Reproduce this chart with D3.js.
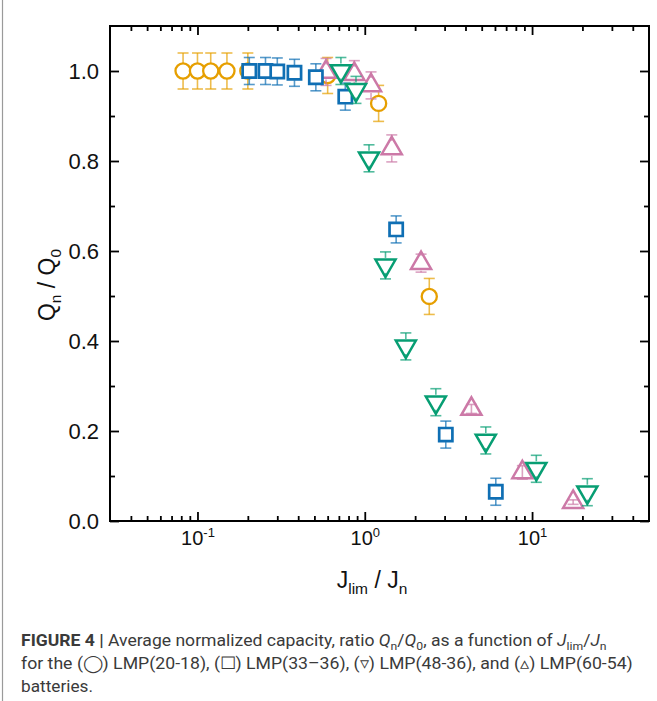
<!DOCTYPE html>
<html><head><meta charset="utf-8">
<script src="https://cdn.jsdelivr.net/npm/d3@7"></script>
<style>body{margin:0;background:#fff}</style>
</head><body>
<svg id="c" width="657" height="701" xmlns="http://www.w3.org/2000/svg"></svg>
<script>
// ---- data ----
const seriesNames = ["LMP(20-18)", "LMP(33-36)", "LMP(48-36)", "LMP(60-54)"];
const circleX = [0.082, 0.1, 0.12, 0.15, 0.2, 0.6, 1.21, 2.43];
const circleY = [1.0, 1.0, 1.0, 1.0, 1.0, 0.99, 0.928, 0.499];
const circleErr = [0.04, 0.04, 0.04, 0.04, 0.04, 0.04, 0.04, 0.04];
const squareX = [0.204, 0.255, 0.30, 0.38, 0.51, 0.765, 1.54, 3.05, 6.07];
const squareY = [1.0, 1.0, 0.999, 0.996, 0.986, 0.943, 0.648, 0.192, 0.065];
const squareErr = [0.03, 0.03, 0.03, 0.03, 0.03, 0.03, 0.03, 0.03, 0.03];
const downX = [0.72, 0.886, 1.06, 1.33, 1.76, 2.66, 5.29, 10.6, 21.4];
const downY = [1.0, 0.958, 0.806, 0.568, 0.388, 0.264, 0.179, 0.116, 0.064];
const downErr = [0.03, 0.03, 0.03, 0.03, 0.03, 0.03, 0.03, 0.03, 0.03];
const upX = [0.587, 0.866, 1.09, 1.45, 2.17, 4.34, 8.75, 17.6];
const upY = [0.998, 0.993, 0.968, 0.828, 0.573, 0.249, 0.108, 0.042];
const upErr = [0.03, 0.03, 0.03, 0.03, 0.02, 0.01, 0.015, 0.005];
const yTicks = [0.0, 0.2, 0.4, 0.6, 0.8, 1.0];
const yMinor = [0.1, 0.3, 0.5, 0.7, 0.9];
const xTicks = [0.1, 1, 10];
const xTickExp = ["-1", "0", "1"];
const xMinor = [0.04,0.05,0.06,0.07,0.08,0.09,0.2,0.3,0.4,0.5,0.6,0.7,0.8,0.9,2,3,4,5,6,7,8,9,20,30,40];

// ---- scales ----
const L = 110, R = 649, T = 26, B = 521;
const x = d3.scaleLog().domain([0.03, 50]).range([L, R]);
const y = d3.scaleLinear().domain([0, 1.1]).range([B, T]);
const svg = d3.select("#c");

const colors = {c: "#E69F00", s: "#0F6FB4", d: "#079E73", u: "#CC79A7"};

// left border line of figure
svg.append("line").attr("x1", 2.5).attr("x2", 2.5).attr("y1", 0).attr("y2", 701)
  .attr("stroke", "#9a9a9a").attr("stroke-width", 1.2);

// ---- axes ----
const fontAx = "'Liberation Sans', Arial, sans-serif";
function styleAxis(g) {
  g.select(".domain").remove();
  g.selectAll(".tick line").attr("stroke", "#000").attr("stroke-width", 1.8);
}
svg.append("g").attr("transform", `translate(${L},0)`)
  .call(d3.axisLeft(y).tickValues(yTicks).tickSize(-9).tickPadding(11).tickFormat(d3.format(".1f")))
  .call(styleAxis)
  .selectAll("text").attr("font-family", fontAx).attr("font-size", 22).attr("fill", "#111");
svg.append("g").attr("transform", `translate(${L},0)`)
  .call(d3.axisLeft(y).tickValues(yMinor).tickSize(-5).tickFormat(""))
  .call(styleAxis);
svg.append("g").attr("transform", `translate(${R},0)`)
  .call(d3.axisRight(y).tickValues(yTicks).tickSize(-9).tickFormat(""))
  .call(styleAxis);
svg.append("g").attr("transform", `translate(${R},0)`)
  .call(d3.axisRight(y).tickValues(yMinor).tickSize(-5).tickFormat(""))
  .call(styleAxis);

const xb = svg.append("g").attr("transform", `translate(0,${B})`)
  .call(d3.axisBottom(x).tickValues(xTicks).tickSize(-9).tickPadding(13).tickFormat(""))
  .call(styleAxis);
xb.selectAll(".tick text").each(function(d, i) {
  const t = d3.select(this).attr("font-family", fontAx).attr("fill", "#111").attr("dy", null).attr("y", 24);
  t.append("tspan").attr("font-size", 20).text("10");
  t.append("tspan").attr("font-size", 13).attr("dy", -8).text(xTickExp[i]);
});
svg.append("g").attr("transform", `translate(0,${B})`)
  .call(d3.axisBottom(x).tickValues(xMinor).tickSize(-5).tickFormat(""))
  .call(styleAxis);
svg.append("g").attr("transform", `translate(0,${T})`)
  .call(d3.axisTop(x).tickValues(xTicks).tickSize(-9).tickFormat(""))
  .call(styleAxis);
svg.append("g").attr("transform", `translate(0,${T})`)
  .call(d3.axisTop(x).tickValues(xMinor).tickSize(-5).tickFormat(""))
  .call(styleAxis);

// frame
svg.append("rect").attr("x", L).attr("y", T).attr("width", R - L).attr("height", B - T)
  .attr("fill", "none").attr("stroke", "#000").attr("stroke-width", 2);

// axis titles
const xt = svg.append("text").attr("x", 372).attr("y", 588)
  .attr("text-anchor", "middle").attr("font-family", fontAx).attr("font-size", 23).attr("fill", "#111");
xt.append("tspan").text("J");
xt.append("tspan").attr("font-size", 15.5).attr("dy", 6).text("lim");
xt.append("tspan").attr("dy", -6).text(" / J");
xt.append("tspan").attr("font-size", 15.5).attr("dy", 6).text("n");

const yt = svg.append("text").attr("transform", `translate(55,285) rotate(-90)`)
  .attr("text-anchor", "middle").attr("font-family", fontAx).attr("font-size", 23).attr("fill", "#111");
yt.append("tspan").text("Q");
yt.append("tspan").attr("font-size", 15.5).attr("dy", 6).text("n");
yt.append("tspan").attr("dy", -6).text(" / Q");
yt.append("tspan").attr("font-size", 15.5).attr("dy", 6).text("0");

// ---- series ----
function mk(xs, ys, es) { return xs.map((v, i) => ({x: v, y: ys[i], e: es[i]})); }
const series = [
  {key: "c", data: mk(circleX, circleY, circleErr), sym: d3.symbolCircle, size: 180, rot: 0, sw: 2.3},
  {key: "u", data: mk(upX, upY, upErr), sym: d3.symbolTriangle, size: 175, rot: 0, sw: 2.5},
  {key: "s", data: mk(squareX, squareY, squareErr), sym: d3.symbolSquare, size: 175, rot: 0, sw: 2.7},
  {key: "d", data: mk(downX, downY, downErr), sym: d3.symbolTriangle, size: 175, rot: 180, sw: 2.5}
];
const gap = 7.5, capW = 5.5;
series.forEach(s => {
  const col = colors[s.key];
  const g = svg.append("g");
  g.selectAll("path.m").data(s.data).join("path").attr("class", "m")
    .attr("d", d3.symbol().type(s.sym).size(s.size))
    .attr("transform", d => `translate(${x(d.x)},${y(d.y)}) rotate(${s.rot})`)
    .attr("fill", "#fff").attr("stroke", col).attr("stroke-width", s.sw).attr("stroke-linejoin", "miter");
  const eb = g.selectAll("g.eb").data(s.data).join("g").attr("class", "eb")
    .attr("stroke", col).attr("stroke-opacity", 0.7).attr("stroke-width", 1.6);
  eb.each(function(d) {
    const e = d3.select(this);
    const cx = x(d.x), cy = y(d.y), top = y(d.y + d.e), bot = y(d.y - d.e);
    const ep = cy - top;
    if (ep > gap) {
      e.append("line").attr("x1", cx).attr("x2", cx).attr("y1", top).attr("y2", cy - gap);
      e.append("line").attr("x1", cx).attr("x2", cx).attr("y1", cy + gap).attr("y2", bot);
    } else {
      e.append("line").attr("x1", cx).attr("x2", cx).attr("y1", top).attr("y2", bot);
    }
    e.append("line").attr("x1", cx - capW).attr("x2", cx + capW).attr("y1", top).attr("y2", top);
    e.append("line").attr("x1", cx - capW).attr("x2", cx + capW).attr("y1", bot).attr("y2", bot);
  });
});

// ---- caption ----
const capFont = "Roboto, 'Noto Sans', sans-serif";
const capCol = "#3a3a3a";
function capLine(yb, width, parts) {
  const t = svg.append("text").attr("x", 0).attr("y", 0)
    .attr("font-family", capFont).attr("font-size", 16.5).attr("fill", capCol);
  parts.forEach(p => {
    const ts = t.append("tspan").text(p.t);
    if (p.b) ts.attr("font-weight", "bold");
    if (p.i) ts.attr("font-style", "italic");
    if (p.sub) ts.attr("font-size", 11.5).attr("dy", 4);
    if (p.up) ts.attr("dy", -4);
  });
  const w = t.node().getComputedTextLength();
  t.attr("transform", `translate(21,${yb}) scale(${width / w},1)`);
}
capLine(646, 586, [
  {t: "FIGURE 4 |", b: true}, {t: " Average normalized capacity, ratio "}, {t: "Q", i: true},
  {t: "n", sub: true}, {t: "/", up: true}, {t: "Q", i: true}, {t: "0", sub: true},
  {t: ", as a function of ", up: true}, {t: "J", i: true}, {t: "lim", sub: true},
  {t: "/", up: true}, {t: "J", i: true}, {t: "n", sub: true}
]);
capLine(669, 614, [
  {t: `for the (\u25EF) ${seriesNames[0]}, (\u2610) LMP(33\u201336), (\u25BF) ${seriesNames[2]}, and (\u25B5) ${seriesNames[3]}`}
]);
capLine(692, 72, [{t: "batteries."}]);
</script>
</body></html>
